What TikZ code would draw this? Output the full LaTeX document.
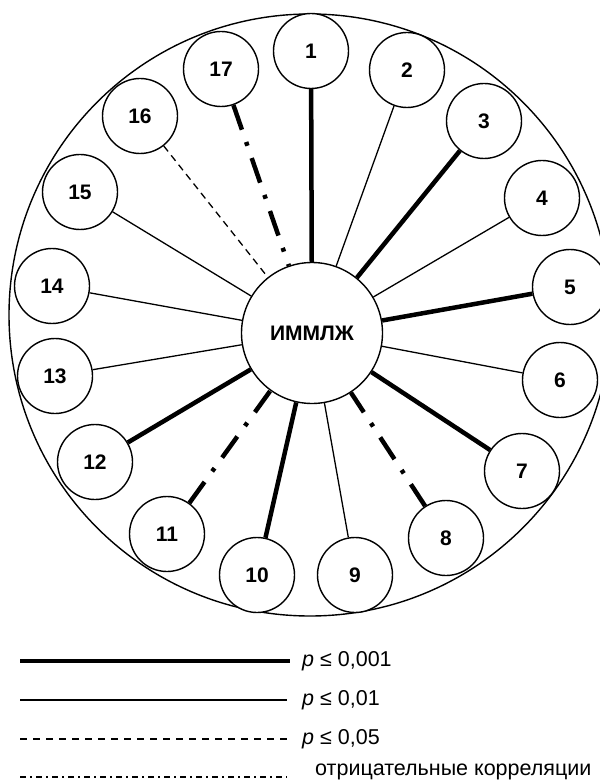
\documentclass[tikz,border=0pt]{standalone}
\usepackage{fontspec}
\setmainfont{Liberation Sans}
\begin{document}
\begin{tikzpicture}[x=1pt,y=-1pt,
  num/.style={circle,draw,line width=1.4pt,minimum size=75pt,inner sep=0pt,fill=white,font=\fontsize{21}{25}\selectfont\bfseries},
  hub/.style={circle,draw,line width=1.4pt,minimum size=141pt,inner sep=0pt,fill=white,font=\fontsize{21}{25}\selectfont\bfseries},
  strong/.style={line width=4.5pt},
  mid/.style={line width=1.3pt},
  weak/.style={line width=1.3pt,dash pattern=on 7pt off 5pt},
  neg/.style={line width=4.5pt,dash pattern=on 26pt off 13pt on 4pt off 13pt},
  legneg/.style={line width=1.3pt,dash pattern=on 6pt off 4pt on 2pt off 4pt},
  legweak/.style={line width=1.3pt,dash pattern=on 7pt off 6pt},
  legtext/.style={anchor=west,inner sep=0pt,font=\fontsize{21.5}{25}\selectfont}]

\useasboundingbox (0,0) rectangle (599,783);
\draw[line width=1.4pt] (310,315) circle[radius=301pt];

\node[hub] (c) at (312,333) {ИММЛЖ};
\node[num] (n1) at (311,51) {1};
\node[num] (n2) at (407,70) {2};
\node[num] (n3) at (484,121) {3};
\node[num] (n4) at (542,198) {4};
\node[num] (n5) at (570,287) {5};
\node[num] (n6) at (560,380) {6};
\node[num] (n7) at (522,471) {7};
\node[num] (n8) at (446,538) {8};
\node[num] (n9) at (355,575) {9};
\node[num] (n10) at (257,575) {10};
\node[num] (n11) at (167,534) {11};
\node[num] (n12) at (95,462) {12};
\node[num] (n13) at (55,376) {13};
\node[num] (n14) at (52,286) {14};
\node[num] (n15) at (80,192) {15};
\node[num] (n16) at (140,116) {16};
\node[num] (n17) at (221,69) {17};

\draw[strong] (n1) -- (c);
\draw[mid] (n2) -- (c);
\draw[strong] (n3) -- (c);
\draw[mid] (n4) -- (c);
\draw[strong] (n5) -- (c);
\draw[mid] (n6) -- (c);
\draw[strong] (n7) -- (c);
\draw[neg] (n8) -- (c);
\draw[mid] (n9) -- (c);
\draw[strong] (n10) -- (c);
\draw[neg] (n11) -- (c);
\draw[strong] (n12) -- (c);
\draw[mid] (n13) -- (c);
\draw[mid] (n14) -- (c);
\draw[mid] (n15) -- (c);
\draw[weak] (n16) -- (c);
\draw[neg] (n17) -- (c);

\coordinate (l1a) at (20,661); \coordinate (l1b) at (290,661);
\coordinate (l2a) at (20,700); \coordinate (l2b) at (287,700);
\coordinate (l3a) at (20,739); \coordinate (l3b) at (287,739);
\coordinate (l4a) at (20,777); \coordinate (l4b) at (287,777);
\draw[strong] (l1a) -- (l1b);
\draw[mid] (l2a) -- (l2b);
\draw[legweak] (l3a) -- (l3b);
\draw[legneg] (l4a) -- (l4b);
\node[legtext] (t1) at (302,661) {\textit{p} ≤ 0,001};
\node[legtext] (t2) at (302,700) {\textit{p} ≤ 0,01};
\node[legtext] (t3) at (302,739) {\textit{p} ≤ 0,05};
\node[legtext] (t4) at (315,772) {отрицательные корреляции};
\end{tikzpicture}
\end{document}
